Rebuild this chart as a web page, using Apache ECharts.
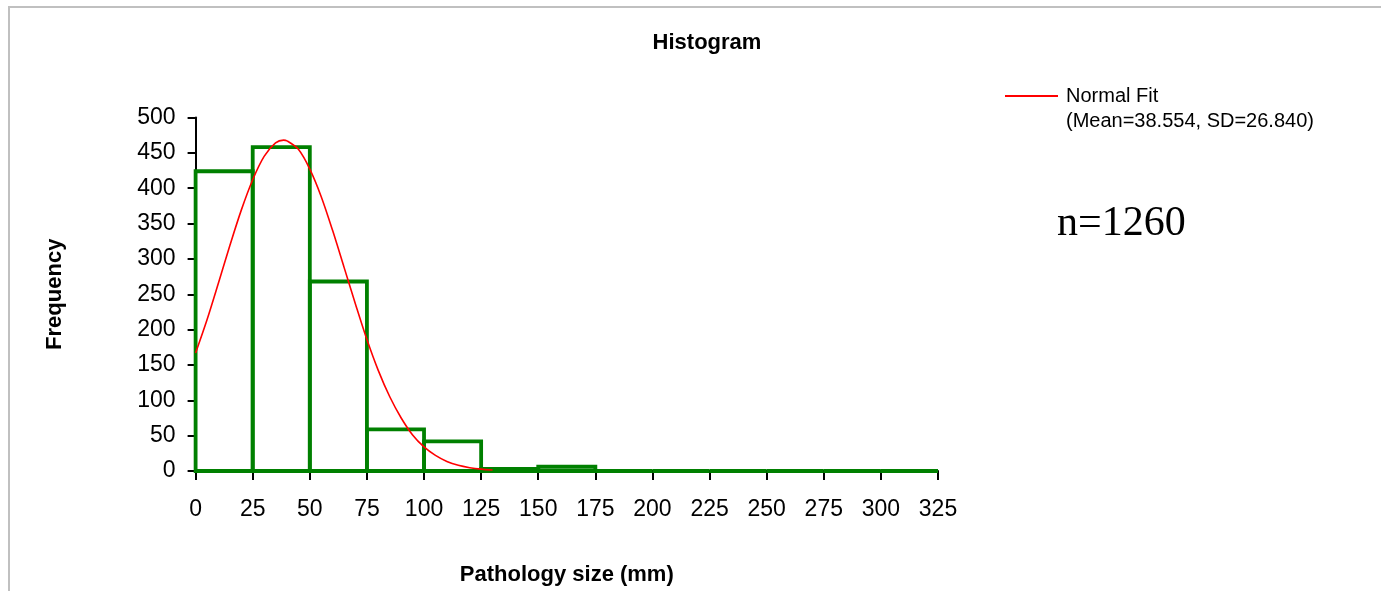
<!DOCTYPE html>
<html>
<head>
<meta charset="utf-8">
<title>Histogram</title>
<script src="https://cdn.jsdelivr.net/npm/echarts@6/dist/echarts.min.js"></script>
<style>
  html, body { margin: 0; padding: 0; background: #fff; }
  #chart { width: 1381px; height: 591px; }
</style>
</head>
<body>
<div id="chart"></div>
<script>
// Bin edges (mm) and counts per bin
const binStart = [0, 25, 50, 75, 100, 125, 150, 175, 200, 225, 250, 275, 300];
const binEnd   = [25, 50, 75, 100, 125, 150, 175, 200, 225, 250, 275, 300, 325];
const binCount = [424, 458, 268, 59, 42, 3, 6, 0, 0, 0, 0, 0, 0];

// Normal fit curve (Mean=38.554, SD=26.840), scaled to counts
const fitX = [0, 5, 10, 15, 20, 25, 30, 35, 38.5, 40, 45, 50, 55, 60, 65, 70, 75, 80, 85, 90, 95, 100, 105, 110, 115, 120, 125, 130];
const fitY = [167, 214, 266, 319, 369, 412, 445, 464, 468, 467, 455, 427, 388, 340, 288, 236, 186, 142, 105, 75, 51, 34, 22, 13.5, 8, 4.7, 2.6, 1.4];

const xTicks = [0, 25, 50, 75, 100, 125, 150, 175, 200, 225, 250, 275, 300, 325];
const yTicks = [0, 50, 100, 150, 200, 250, 300, 350, 400, 450, 500];

const chart = echarts.init(document.getElementById('chart'));

const sans = 'Liberation Sans, Arial, sans-serif';
const tickFont = { fontFamily: sans, fontSize: 23, color: '#000' };
const boldFont = { fontFamily: sans, fontWeight: 'bold', fontSize: 22, color: '#000' };

chart.setOption({
  backgroundColor: '#fff',
  animation: false,
  title: {
    text: 'Histogram',
    left: 707,
    top: 32,
    padding: 0,
    textAlign: 'center',
    textStyle: boldFont
  },
  legend: {
    left: 1005,
    top: 86,
    padding: 0,
    itemWidth: 53,
    itemHeight: 2,
    itemGap: 8,
    data: [{ name: 'Normal Fit', icon: 'rect' }],
    textStyle: { fontFamily: sans, fontSize: 20, color: '#000', padding: [0, 0, 0, 3] }
  },
  graphic: [
    {
      type: 'rect',
      silent: true,
      z: -10,
      shape: { x: 9, y: 7, width: 1500, height: 700 },
      style: { fill: 'none', stroke: '#c0c0c0', lineWidth: 2 }
    },
    {
      type: 'text',
      left: 1066,
      top: 111,
      style: {
        text: '(Mean=38.554, SD=26.840)',
        fontFamily: sans,
        fontSize: 20,
        fill: '#000'
      }
    },
    {
      type: 'text',
      left: 1057,
      top: 203,
      style: {
        text: 'n=1260',
        fontFamily: 'Liberation Serif, Times New Roman, serif',
        fontSize: 42,
        fill: '#000'
      }
    }
  ],
  grid: { left: 195.6, top: 117.5, width: 742.4, height: 353.5 },
  xAxis: {
    type: 'value',
    min: xTicks[0],
    max: xTicks[xTicks.length - 1],
    interval: 25,
    name: 'Pathology size (mm)',
    nameLocation: 'middle',
    nameGap: 93,
    nameTextStyle: boldFont,
    axisLine: { show: true, onZero: false, lineStyle: { color: '#000', width: 2 } },
    axisTick: { show: true, inside: false, length: 9, lineStyle: { color: '#000', width: 2 } },
    axisLabel: Object.assign({ margin: 27 }, tickFont),
    splitLine: { show: false }
  },
  yAxis: {
    type: 'value',
    min: yTicks[0],
    max: yTicks[yTicks.length - 1],
    interval: 50,
    name: 'Frequency',
    nameLocation: 'middle',
    nameRotate: 90,
    nameGap: 130,
    nameTextStyle: boldFont,
    axisLine: { show: true, lineStyle: { color: '#000', width: 2 } },
    axisTick: { show: true, inside: false, length: 8, lineStyle: { color: '#000', width: 2 } },
    axisLabel: Object.assign({ margin: 20 }, tickFont),
    splitLine: { show: false }
  },
  series: [
    {
      name: 'Histogram bins',
      type: 'custom',
      z: 3,
      clip: false,
      data: binStart.map((s, i) => [s, binEnd[i], binCount[i]]),
      renderItem: function (params, api) {
        const topLeft = api.coord([api.value(0), api.value(2)]);
        const bottomRight = api.coord([api.value(1), 0]);
        return {
          type: 'rect',
          shape: {
            x: topLeft[0],
            y: topLeft[1],
            width: bottomRight[0] - topLeft[0],
            height: bottomRight[1] - topLeft[1]
          },
          style: { fill: 'none', stroke: '#008000', lineWidth: 3.8 }
        };
      }
    },
    {
      name: 'Normal Fit',
      type: 'line',
      z: 4,
      smooth: 0.3,
      showSymbol: false,
      symbol: 'none',
      color: '#ff0000',
      lineStyle: { color: '#ff0000', width: 1.6 },
      data: fitX.map((x, i) => [x, fitY[i]])
    }
  ]
});
</script>
</body>
</html>
